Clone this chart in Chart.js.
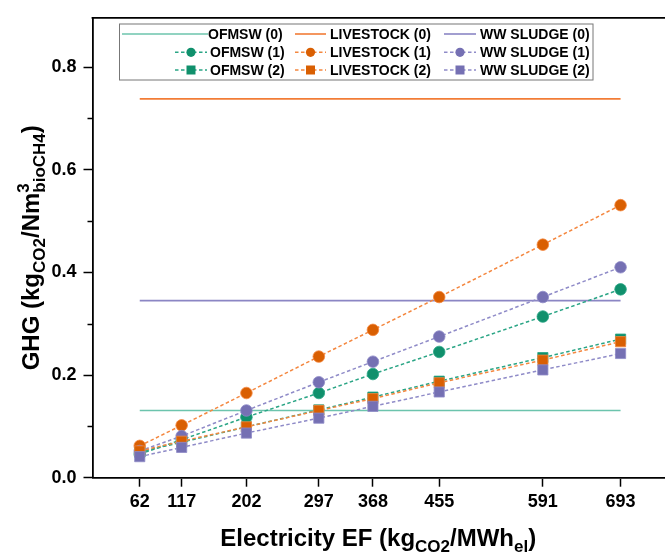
<!DOCTYPE html>
<html>
<head>
<meta charset="utf-8">
<script src="https://cdn.jsdelivr.net/npm/chart.js@4.4.1/dist/chart.umd.min.js"></script>
<style>
  html, body { margin: 0; padding: 0; background: #fff; overflow: hidden; }
  canvas { display: block; }
</style>
</head>
<body>
<canvas id="c" width="672" height="554"></canvas>
<script>
// ---- data ----
const xValues = [62, 117, 202, 297, 368, 455, 591, 693];
const yTickValues = [0, 0.2, 0.4, 0.6, 0.8];
const yMinorTicks = [0.1, 0.3, 0.5, 0.7];

const ofmsw0     = [0.131, 0.131, 0.131, 0.131, 0.131, 0.131, 0.131, 0.131];
const livestock0 = [0.738, 0.738, 0.738, 0.738, 0.738, 0.738, 0.738, 0.738];
const wwSludge0  = [0.345, 0.345, 0.345, 0.345, 0.345, 0.345, 0.345, 0.345];

const ofmsw1     = [0.046, 0.074, 0.118, 0.165, 0.202, 0.245, 0.314, 0.367];
const livestock1 = [0.062, 0.102, 0.165, 0.236, 0.288, 0.352, 0.454, 0.531];
const wwSludge1  = [0.052, 0.081, 0.131, 0.186, 0.226, 0.275, 0.352, 0.410];

const ofmsw2     = [0.050, 0.069, 0.099, 0.132, 0.157, 0.188, 0.234, 0.270];
const livestock2 = [0.052, 0.071, 0.099, 0.131, 0.154, 0.185, 0.229, 0.265];
const wwSludge2  = [0.041, 0.059, 0.087, 0.116, 0.139, 0.167, 0.210, 0.242];

const seriesLabels = [
  'OFMSW (0)', 'LIVESTOCK (0)', 'WW SLUDGE (0)',
  'OFMSW (1)', 'LIVESTOCK (1)', 'WW SLUDGE (1)',
  'OFMSW (2)', 'LIVESTOCK (2)', 'WW SLUDGE (2)'
];
const seriesValues = [ofmsw0, livestock0, wwSludge0, ofmsw1, livestock1, wwSludge1, ofmsw2, livestock2, wwSludge2];

// ---- styles ----
const FONT = 'Liberation Sans';
const markerColors = ['#10906c', '#d95f02', '#7570b3'];
const solidColors  = ['#6cc4ad', '#f27c36', '#8b86c4'];
const dashColors   = ['#2aa585', '#f4873f', '#8f8bc8'];

const datasets = seriesLabels.map((label, i) => {
  const group = Math.floor(i / 3);
  const col = i % 3;
  const vals = seriesValues[i];
  const ds = {
    label,
    data: xValues.map((x, k) => ({ x, y: vals[k] })),
    order: 20 - i,
    tension: 0,
    fill: false
  };
  if (group === 0) {
    Object.assign(ds, {
      borderColor: solidColors[col],
      borderWidth: 1.6,
      pointRadius: 0,
      pointHoverRadius: 0
    });
  } else {
    Object.assign(ds, {
      borderColor: dashColors[col],
      borderWidth: 1.5,
      borderDash: [3.5, 2.5],
      pointStyle: group === 1 ? 'circle' : 'rect',
      pointRadius: group === 1 ? 5.8 : 7.2,
      pointBackgroundColor: markerColors[col],
      pointBorderColor: dashColors[col],
      pointBorderWidth: 0.8
    });
  }
  return ds;
});

// ---- rich text helpers (sub/superscripts) ----
const MAIN = 24, SUB = 17;
function fontFor(p) { return 'bold ' + (p.k === 'n' ? MAIN : SUB) + 'px "' + FONT + '"'; }
function richWidth(ctx, parts) {
  let w = 0;
  for (const p of parts) { ctx.font = fontFor(p); if (!p.stack) w += ctx.measureText(p.t).width; }
  return w;
}
function drawRich(ctx, parts, x, y) {
  let cx = x;
  for (const p of parts) {
    ctx.font = fontFor(p);
    const dy = p.k === 'sub' ? 6 : (p.k === 'sup' ? -10 : 0);
    ctx.fillText(p.t, cx, y + dy);
    if (!p.stack) cx += ctx.measureText(p.t).width;
  }
}
const xTitle = [
  { t: 'Electricity EF (kg', k: 'n' }, { t: 'CO2', k: 'sub' },
  { t: '/MWh', k: 'n' }, { t: 'el', k: 'sub' }, { t: ')', k: 'n' }
];
const yTitle = [
  { t: 'GHG (kg', k: 'n' }, { t: 'CO2', k: 'sub' }, { t: '/Nm', k: 'n' },
  { t: '3', k: 'sup', stack: true }, { t: 'bioCH4', k: 'sub' }, { t: ')', k: 'n' }
];

const decorPlugin = {
  id: 'decor',
  afterDraw(chart) {
    const ctx = chart.ctx;
    const a = chart.chartArea;
    const ys = chart.scales.y;
    ctx.save();
    // top frame line
    ctx.strokeStyle = '#000';
    ctx.lineWidth = 1.8;
    ctx.beginPath();
    ctx.moveTo(a.left - 0.9, a.top);
    ctx.lineTo(a.right + 2, a.top);
    ctx.stroke();
    // minor y ticks
    ctx.lineWidth = 1.5;
    for (const v of yMinorTicks) {
      const py = Math.round(ys.getPixelForValue(v)) + 0.5;
      ctx.beginPath();
      ctx.moveTo(a.left - 5, py);
      ctx.lineTo(a.left, py);
      ctx.stroke();
    }
    // axis titles
    ctx.fillStyle = '#000';
    ctx.textBaseline = 'alphabetic';
    ctx.textAlign = 'left';
    const wx = richWidth(ctx, xTitle);
    drawRich(ctx, xTitle, (a.left + a.right) / 2 - wx / 2, 546);
    const wy = richWidth(ctx, yTitle);
    ctx.save();
    ctx.translate(39, (a.top + a.bottom) / 2 + wy / 2);
    ctx.rotate(-Math.PI / 2);
    drawRich(ctx, yTitle, 0, 0);
    ctx.restore();

    // legend
    const box = { l: 119, t: 23.5, r: 592.5, b: 79.5 };
    ctx.fillStyle = '#fff';
    ctx.fillRect(box.l, box.t, box.r - box.l, box.b - box.t);
    ctx.strokeStyle = '#777';
    ctx.lineWidth = 1;
    ctx.strokeRect(box.l + 0.5, box.t + 0.5, box.r - box.l, box.b - box.t);
    const cols = [
      { s0: 175, s1: 207, tx: 210 },
      { s0: 295, s1: 326, tx: 330 },
      { s0: 444, s1: 476, tx: 480 }
    ];
    const rows = [34, 52.3, 70];
    ctx.font = 'bold 14px "' + FONT + '"';
    ctx.textBaseline = 'middle';
    chart.data.datasets.forEach((ds, i) => {
      const r = Math.floor(i / 3), c = i % 3;
      const col = cols[c], y = rows[r];
      const s0 = (r === 0 && c === 0) ? box.l + 3 : col.s0;
      const s1 = (r === 0 && c === 0) ? col.tx - 2 : col.s1;
      ctx.strokeStyle = ds.borderColor;
      ctx.lineWidth = ds.borderWidth;
      ctx.setLineDash(ds.borderDash || []);
      ctx.beginPath();
      ctx.moveTo(s0, y);
      ctx.lineTo(s1, y);
      ctx.stroke();
      ctx.setLineDash([]);
      if (r > 0) {
        const cx = (col.s0 + col.s1) / 2;
        ctx.fillStyle = ds.pointBackgroundColor;
        if (ds.pointStyle === 'circle') {
          ctx.beginPath();
          ctx.arc(cx, y, 4.6, 0, Math.PI * 2);
          ctx.fill();
        } else {
          ctx.fillRect(cx - 4.5, y - 4.5, 9, 9);
        }
      }
      ctx.fillStyle = '#000';
      ctx.fillText(ds.label, col.tx - (r === 0 && c === 0 ? 2 : 0), y + 1);
    });
    ctx.restore();
  }
};

new Chart(document.getElementById('c'), {
  type: 'line',
  data: { datasets },
  options: {
    responsive: false,
    animation: false,
    devicePixelRatio: 1,
    layout: { padding: { top: 15, right: 4, bottom: 0, left: 0 } },
    plugins: { legend: { display: false }, tooltip: { enabled: false } },
    scales: {
      x: {
        type: 'linear',
        min: 0,
        max: 750,
        afterBuildTicks: s => { s.ticks = xValues.map(v => ({ value: v })); },
        afterFit: s => { s.height = 76.3; },
        ticks: {
          autoSkip: false,
          maxRotation: 0,
          padding: 5,
          color: '#000',
          font: { family: FONT, weight: 'bold', size: 18 },
          callback: v => String(v)
        },
        grid: { display: true, drawOnChartArea: false, drawTicks: true, tickLength: 9, tickWidth: 1.5, tickColor: '#000' },
        border: { display: true, color: '#000', width: 1.8 }
      },
      y: {
        type: 'linear',
        min: 0,
        max: 0.896,
        afterBuildTicks: s => { s.ticks = yTickValues.map(v => ({ value: v })); },
        afterFit: s => { s.width = 92.5; },
        ticks: {
          padding: 7,
          color: '#000',
          font: { family: FONT, weight: 'bold', size: 18 },
          callback: v => Number(v).toFixed(1)
        },
        grid: { display: true, drawOnChartArea: false, drawTicks: true, tickLength: 9, tickWidth: 1.5, tickColor: '#000' },
        border: { display: true, color: '#000', width: 1.8 }
      }
    }
  },
  plugins: [decorPlugin]
});
</script>
</body>
</html>
